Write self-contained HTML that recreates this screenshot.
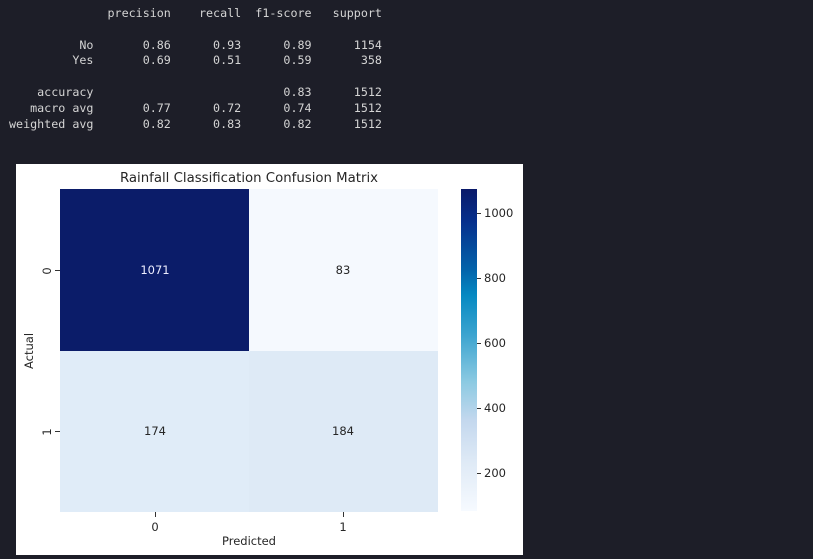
<!DOCTYPE html>
<html><head><style>
body{margin:0;width:813px;height:559px;background:#1d1e28;position:relative;overflow:hidden;font-family:"DejaVu Sans","Liberation Sans",sans-serif}
pre{position:absolute;left:9px;top:6px;margin:0;font-family:"DejaVu Sans Mono","Liberation Mono",monospace;font-size:11.7px;line-height:15.8px;color:#d4d4d4}
#panel{position:absolute;left:16px;top:164px;width:507px;height:391px;background:#fff}
</style></head><body>
<pre>              precision    recall  f1-score   support

          No       0.86      0.93      0.89      1154
         Yes       0.69      0.51      0.59       358

    accuracy                           0.83      1512
   macro avg       0.77      0.72      0.74      1512
weighted avg       0.82      0.83      0.82      1512</pre>
<div id="panel"></div>
<svg style="position:absolute;left:0;top:0" width="813" height="559">
<defs><linearGradient id="g" x1="0" y1="0" x2="0" y2="1">
<stop offset="0" stop-color="#0a1a69"/>
<stop offset="0.1" stop-color="#062f8c"/>
<stop offset="0.25" stop-color="#0363aa"/>
<stop offset="0.33" stop-color="#0589c2"/>
<stop offset="0.45" stop-color="#3aa3cf"/>
<stop offset="0.6" stop-color="#8ccae2"/>
<stop offset="0.72" stop-color="#c4d8ee"/>
<stop offset="0.85" stop-color="#dfeaf6"/>
<stop offset="1" stop-color="#f6faff"/>
</linearGradient></defs>
<rect x="60" y="189" width="189" height="162" fill="#0b1c69"/>
<rect x="249" y="189" width="189" height="162" fill="#f5f9fe"/>
<rect x="60" y="351" width="189" height="161" fill="#e0ecf8"/>
<rect x="249" y="351" width="189" height="161" fill="#deeaf6"/>
<rect x="461" y="189" width="16" height="322" fill="url(#g)"/>
<g stroke="#333" stroke-width="1">
<line x1="55" y1="270.5" x2="60" y2="270.5"/><line x1="55" y1="431.5" x2="60" y2="431.5"/>
<line x1="155.5" y1="512" x2="155.5" y2="517"/><line x1="343.5" y1="512" x2="343.5" y2="517"/>
<line x1="477" y1="213.5" x2="481" y2="213.5"/><line x1="477" y1="278.5" x2="481" y2="278.5"/>
<line x1="477" y1="343.5" x2="481" y2="343.5"/><line x1="477" y1="408.5" x2="481" y2="408.5"/>
<line x1="477" y1="473.5" x2="481" y2="473.5"/>
</g>
<g font-family="DejaVu Sans, Liberation Sans, sans-serif" font-size="11.5" fill="#262626">
<text x="249" y="182" font-size="13.3" text-anchor="middle">Rainfall Classification Confusion Matrix</text>
<text x="155" y="274" text-anchor="middle" fill="#eef">1071</text>
<text x="343" y="274" text-anchor="middle">83</text>
<text x="155" y="435" text-anchor="middle">174</text>
<text x="343" y="435" text-anchor="middle">184</text>
<text x="155" y="531" text-anchor="middle">0</text>
<text x="343" y="531" text-anchor="middle">1</text>
<text x="249" y="545" text-anchor="middle">Predicted</text>
<text transform="translate(51,271) rotate(-90)" text-anchor="middle">0</text>
<text transform="translate(51,432) rotate(-90)" text-anchor="middle">1</text>
<text transform="translate(33,351) rotate(-90)" text-anchor="middle">Actual</text>
<text x="484" y="217">1000</text>
<text x="484" y="282">800</text>
<text x="484" y="347">600</text>
<text x="484" y="412">400</text>
<text x="484" y="477">200</text>
</g>
</svg>
</body></html>
